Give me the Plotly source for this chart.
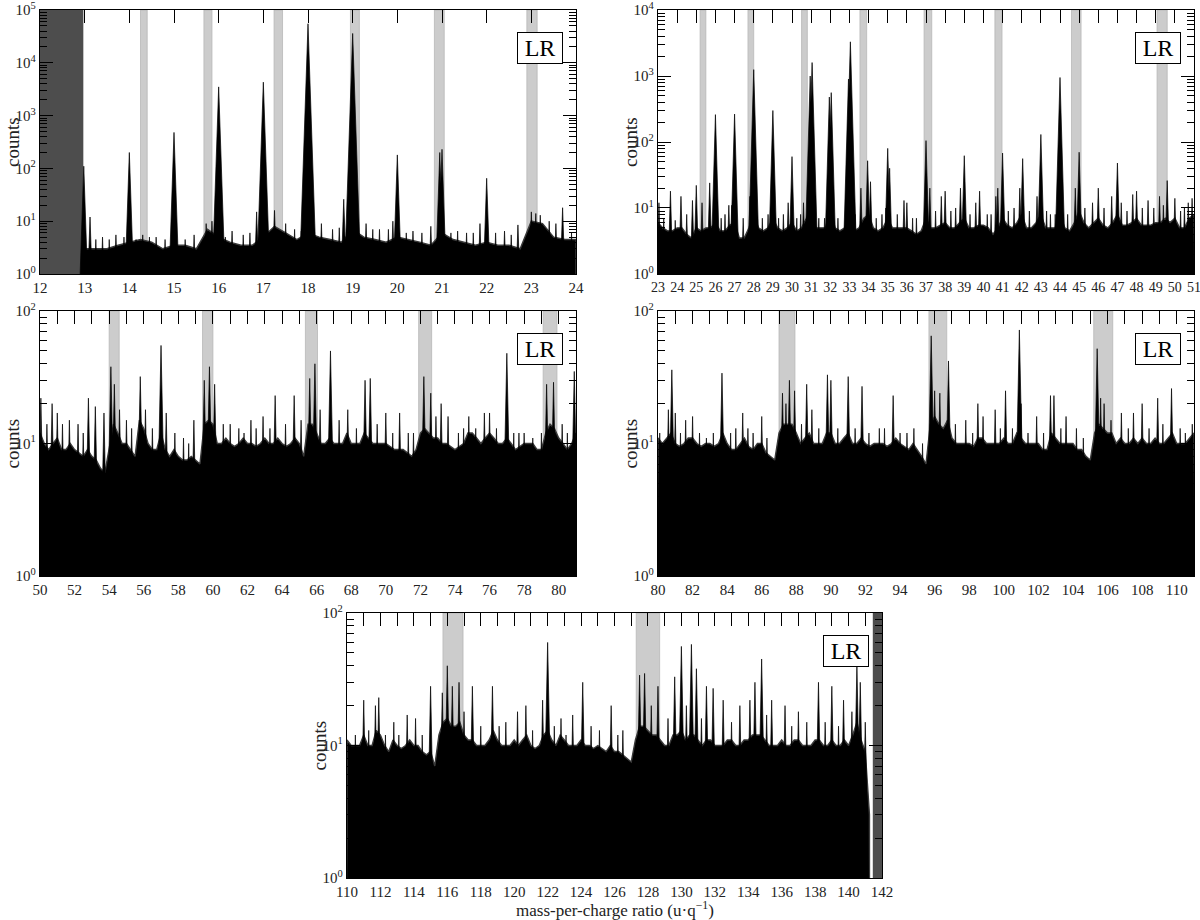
import numpy as np
import plotly.graph_objects as go

FONT = "Liberation Serif"
W, H = 1200, 920

# ---------------- Panel 1 : 12-24 ----------------
p1_floor_start, p1_floor_step = 13.0, 0.25
p1_floor = [3, 3, 3, 3.5, 4, 4.5, 4, 3, 3.5, 3.5, 3, 7, 5, 4, 3.5, 3.5, 5, 8, 6, 4.5,
            6, 5, 4.5, 4, 7, 5, 4.5, 4, 5, 4.5, 4, 3.5, 6, 4.5, 4, 3.5, 4, 3.5, 3.5, 3,
            10, 9, 5, 4.5, 4.5]
p1_mz = [12.98, 13.12, 13.25, 13.4, 13.55, 13.7, 13.88, 14.0, 14.15, 14.3, 14.45, 14.6, 14.8,
         15.0, 15.25, 15.45, 15.72, 15.85, 16.0, 16.15, 16.3, 16.55, 16.7, 16.85, 17.0, 17.25,
         17.5, 17.7, 17.85, 18.0, 18.3, 18.55, 18.7, 18.8, 19.0, 19.3, 19.45, 19.6, 19.8, 19.9,
         20.0, 20.2, 20.35, 20.55, 20.75, 20.95, 21.0, 21.2, 21.35, 21.55, 21.7, 21.85, 22.0,
         22.2, 22.4, 22.55, 22.7, 23.0, 23.1, 23.2, 23.4, 23.55, 23.7, 23.9]
p1_counts = [110, 12, 4.5, 5, 4.5, 5.5, 5, 200, 4.5, 5.5, 5, 5, 4.5,
             480, 4.5, 5.5, 9, 10, 3500, 5, 6.5, 5.5, 6, 15, 4300, 16,
             9, 7, 6.5, 55000, 9, 7, 7.5, 26, 36000, 9, 7, 7, 7, 10,
             180, 6, 6.5, 6, 8, 200, 230, 6, 6.5, 6, 6, 9, 65,
             6, 6.5, 5.5, 8.5, 15, 14, 13, 10, 9, 18, 6]
p1_bands = [(14.25, 14.4), (15.67, 15.85), (17.24, 17.43), (18.95, 19.15), (20.83, 21.05), (22.9, 23.13)]
p1_dark = [(12.0, 12.97)]

# ---------------- Panel 2 : 23-51 ----------------
p2_floor_start, p2_floor_step = 23.0, 0.25
p2_floor = [6, 5, 4.5, 4.5, 5, 5, 4, 3.5, 5, 4.5, 5, 5, 6, 4.5, 4.5, 5.5, 6, 3.5, 3.5, 5,
            8, 5, 4.5, 5, 7, 5, 4.5, 5, 6, 4.5, 5, 7, 10, 5, 5, 5, 10, 5, 4.5, 5,
            8, 4.5, 5, 7, 8, 5, 4.5, 5, 7, 5, 5, 5, 5, 4.5, 4, 4.5, 7, 5, 5, 5.5,
            6, 5, 5, 6, 7, 5, 5, 5.5, 5.5, 5, 4, 5, 7, 5.5, 5, 6, 8, 5, 5, 6,
            8, 5, 5, 5, 8, 5, 4.5, 6, 9, 6, 5, 6, 7, 5.5, 5, 6, 8, 5.5, 5.5, 6,
            7, 5.5, 5.5, 5.5, 6, 6, 7, 6, 7, 5, 5, 7, 8]
p2_mz = [23.05, 23.3, 23.65, 23.9, 24.2, 24.5, 24.8, 25.0, 25.3, 25.7, 26.0, 26.3, 26.5, 26.7,
         26.85, 27.0, 27.45, 27.8, 28.0, 28.45, 28.75, 29.0, 29.3, 29.55, 29.8, 30.0, 30.25,
         30.45, 30.6, 30.95, 31.05, 31.4, 31.7, 31.95, 32.05, 32.4, 32.8, 32.95, 33.05, 33.3,
         33.6, 33.95, 34.1, 34.4, 34.7, 34.9, 35.0, 35.1, 35.5, 35.85, 36.0, 36.3, 36.5,
         37.0, 37.2, 37.5, 37.8, 38.0, 38.3, 38.55, 38.8, 39.0, 39.3, 39.6, 39.8, 40.2, 40.4,
         40.65, 40.75, 41.0, 41.3, 41.6, 41.9, 42.05, 42.4, 42.8, 43.0, 43.3, 43.5, 43.75,
         44.0, 44.4, 44.8, 45.0, 45.3, 45.7, 46.0, 46.3, 46.7, 47.0, 47.2, 47.5, 47.8, 48.0,
         48.3, 48.6, 48.9, 49.2, 49.4, 49.6, 50.0, 50.3, 50.5, 50.7, 50.9]
p2_counts = [12, 7, 18, 6.5, 15, 8, 13, 22, 12, 24, 260, 7, 8, 11,
             11, 265, 7, 15, 1250, 7, 8, 300, 7, 8, 12, 60, 7,
             8, 12, 1000, 1600, 7, 7, 480, 560, 7, 8, 900, 3300, 8,
             20, 52, 25, 7, 8, 10, 80, 40, 8, 13, 12, 7, 7,
             105, 20, 9, 15, 18, 9, 10, 20, 62, 8, 12, 18, 8, 8,
             15, 20, 68, 9, 10, 20, 56, 9, 15, 130, 9, 8, 8,
             950, 8, 20, 70, 10, 12, 20, 10, 15, 48, 12, 9, 16, 18,
             10, 13, 10, 15, 11, 26, 14, 9, 10, 12, 14]
p2_bands = [(25.2, 25.5), (27.7, 28.0), (30.5, 30.8), (33.55, 33.9), (36.9, 37.3),
            (40.6, 40.97), (44.6, 45.1), (49.07, 49.6)]
p2_dark = []

# ---------------- Panel 3 : 50-81 ----------------
p3_floor_start, p3_floor_step = 50.0, 0.25
p3_floor = [12, 10, 9, 10, 11, 9, 9, 10, 9, 8.5, 8, 9, 8, 7.5, 6.5, 6, 9, 14, 12, 10,
            10, 9, 8, 15, 13, 10, 9, 9, 12, 9, 8, 9, 8, 7.5, 7.5, 8, 7.5, 7, 14, 15,
            14, 10, 10, 11, 10, 9.5, 10, 11, 10, 10, 9.5, 10, 11, 10, 10, 11, 10, 9.5, 10, 11,
            10, 8, 14, 14, 12, 10, 10, 11, 10, 10, 10, 12, 10, 10, 10, 12, 11, 10, 10, 10,
            10, 9.5, 9, 9, 9, 8.5, 8, 9, 12, 13, 12, 11, 11, 10, 10, 9.5, 9, 9.5, 10, 12,
            12, 11, 10, 11, 12, 11, 10, 10, 11, 10, 9, 9.5, 10, 10, 10, 9, 9, 12, 14, 13,
            11, 10, 9, 10, 12]
p3_mz = [50.05, 50.4, 50.7, 51.0, 51.3, 51.7, 52.2, 52.5, 52.8, 53.2, 53.7, 54.1, 54.3, 54.6,
         55.0, 55.3, 55.8, 56.1, 56.5, 57.0, 57.3, 57.8, 58.3, 58.6, 58.9, 59.5, 59.8, 60.1,
         60.6, 61.0, 61.5, 61.8, 62.2, 62.5, 62.9, 63.3, 63.6, 64.2, 64.7, 65.1, 65.6, 65.9,
         66.2, 66.8, 67.3, 67.8, 68.3, 68.8, 69.1, 69.5, 70.0, 70.4, 70.8, 71.3, 71.6, 72.2,
         72.6, 72.9, 73.2, 73.6, 74.2, 74.5, 74.8, 75.2, 75.7, 76.0, 76.4, 77.0, 77.4, 77.7,
         78.0, 78.5, 79.0, 79.3, 79.7, 80.2, 80.5, 80.9]
p3_counts = [22, 14, 20, 17, 14, 15, 14, 12, 22, 19, 17, 38, 28, 18,
             15, 13, 32, 18, 13, 55, 17, 12, 11, 10, 15, 30, 38, 28,
             14, 14, 13, 12, 15, 13, 16, 13, 23, 14, 23, 15, 31, 40,
             18, 50, 15, 18, 13, 30, 31, 14, 17, 12, 17, 12, 12, 32,
             24, 16, 20, 16, 12, 13, 16, 13, 17, 17, 13, 48, 12, 12,
             12, 11, 12, 28, 29, 14, 12, 35]
p3_bands = [(54.0, 54.58), (59.4, 60.0), (65.35, 66.05), (71.9, 72.65), (79.1, 79.9)]
p3_dark = []

# ---------------- Panel 4 : 80-111 ----------------
p4_floor_start, p4_floor_step = 80.0, 0.25
p4_floor = [11, 10, 11, 12, 10, 9.5, 10, 11, 11, 10, 9.5, 10, 10, 9.5, 10, 12, 10, 9, 9, 10,
            11, 9.5, 9, 10, 10, 8.5, 8, 7.5, 12, 14, 14, 14, 12, 10, 11, 12, 10, 10, 10, 12,
            12, 10, 10, 11, 12, 10, 10, 11, 10, 9.5, 10, 10, 10, 9.5, 10, 11, 10, 9.5, 9, 10,
            9, 8, 7, 14, 16, 14, 13, 15, 11, 10, 10, 10, 10, 9.5, 11, 11, 10, 10, 10, 10,
            11, 10, 10, 12, 11, 10, 10, 10, 10, 9, 9, 12, 11, 10, 10, 10, 10, 9, 9, 8,
            7.5, 12, 14, 13, 12, 12, 10, 11, 10, 10, 11, 10, 11, 10, 10, 11, 10, 10, 11, 12,
            10, 10, 10, 11, 12]
p4_mz = [80.1, 80.6, 80.8, 81.0, 81.3, 81.6, 82.0, 82.4, 82.8, 83.2, 83.7, 84.2, 84.5, 84.9,
         85.2, 85.5, 86.0, 86.3, 87.2, 87.4, 87.6, 87.9, 88.3, 88.6, 88.9, 89.3, 89.8, 90.0,
         90.4, 91.0, 91.4, 91.8, 92.2, 92.8, 93.1, 93.6, 94.0, 94.4, 94.8, 95.3, 95.8, 96.0,
         96.3, 96.8, 97.2, 97.8, 98.2, 98.5, 98.8, 99.5, 99.8, 100.1, 100.5, 100.9, 101.0,
         101.4, 101.9, 102.3, 102.7, 102.9, 103.3, 103.6, 104.2, 104.6, 105.4, 105.6, 105.8,
         106.2, 106.8, 107.2, 107.5, 108.0, 108.4, 108.9, 109.2, 109.7, 110.2, 110.5, 110.9]
p4_counts = [12, 18, 36, 17, 12, 15, 16, 12, 11, 12, 34, 12, 13, 17,
             13, 12, 16, 11, 24, 20, 30, 25, 14, 28, 18, 13, 33, 30,
             13, 32, 13, 27, 12, 13, 13, 23, 12, 12, 13, 10, 65, 25,
             24, 42, 14, 15, 12, 20, 16, 18, 13, 25, 13, 72, 20,
             12, 16, 12, 23, 23, 13, 16, 13, 11, 52, 22, 20,
             15, 17, 13, 17, 20, 13, 22, 14, 26, 13, 12, 14]
p4_bands = [(87.0, 87.92), (95.67, 96.7), (105.2, 106.3)]
p4_dark = []

# ---------------- Panel 5 : 110-142 ----------------
p5_floor_start, p5_floor_step = 110.0, 0.25
p5_floor = [11, 10, 10, 10, 12, 10, 10, 13, 12, 10, 9, 11, 10, 9.5, 10, 11, 10, 10, 9, 8.5,
            9, 7, 12, 15, 16, 14, 14, 15, 12, 11, 11, 10, 10, 10, 11, 13, 11, 10, 10, 10,
            11, 10, 11, 12, 10, 9.5, 10, 12, 13, 11, 10, 12, 11, 10, 10, 10, 11, 10, 10, 9.5,
            10, 9.5, 9, 10, 9, 9, 8.5, 8, 7.5, 11, 14, 14, 13, 12, 12, 11, 10, 10, 12, 12,
            13, 11, 12, 12, 11, 10, 11, 11, 10, 10, 10, 11, 11, 10, 10, 11, 11, 12, 12, 12,
            11, 10, 10, 10, 11, 10, 10, 11, 11, 10, 10, 10, 11, 11, 10, 10, 11, 10, 10, 11,
            10, 12, 15, 11, 9, 3]
p5_mz = [110.2, 110.5, 111.0, 111.3, 111.7, 111.9, 112.3, 112.8, 113.1, 113.6, 114.1, 114.5,
         115.0, 115.7, 116.0, 116.3, 116.7, 117.0, 117.5, 118.0, 118.7, 119.1, 119.5, 120.2,
         120.7, 121.1, 121.7, 122.0, 122.4, 122.8, 123.1, 123.5, 124.1, 124.6, 125.1, 125.8,
         126.2, 126.5, 127.5, 127.8, 128.2, 128.6, 129.2, 129.6, 130.0, 130.3, 130.6, 130.9,
         131.2, 131.5, 131.9, 132.5, 133.0, 133.5, 134.1, 134.4, 134.8, 135.1, 135.4, 136.2,
         136.6, 137.0, 137.5, 138.2, 138.6, 139.0, 139.4, 139.7, 140.2, 140.5, 140.7, 141.0]
p5_counts = [10, 12, 22, 13, 20, 23, 12, 15, 12, 17, 16, 12,
             28, 25, 40, 28, 30, 18, 28, 14, 28, 14, 15, 18,
             20, 13, 22, 60, 14, 16, 12, 17, 30, 14, 13, 20,
             12, 13, 34, 35, 20, 28, 16, 33, 56, 20, 58, 38,
             16, 28, 27, 22, 15, 20, 22, 30, 45, 17, 22, 20,
             14, 18, 15, 30, 15, 28, 14, 22, 18, 40, 30, 15]
p5_bands = [(115.74, 116.94), (127.3, 128.7)]
p5_dark = [(141.45, 142.0)]

panels = [
    dict(fs=p1_floor_start, fst=p1_floor_step, floor=p1_floor, mz=p1_mz, counts=p1_counts,
         bands=p1_bands, dark=p1_dark, xr=[12, 24], dec=5, lab_every=1, c=0.04,
         box=(40, 576, 10, 274)),
    dict(fs=p2_floor_start, fst=p2_floor_step, floor=p2_floor, mz=p2_mz, counts=p2_counts,
         bands=p2_bands, dark=p2_dark, xr=[23, 51], dec=4, lab_every=1, c=0.1,
         box=(658, 1194, 10, 274)),
    dict(fs=p3_floor_start, fst=p3_floor_step, floor=p3_floor, mz=p3_mz, counts=p3_counts,
         bands=p3_bands, dark=p3_dark, xr=[50, 81], dec=2, lab_every=2, c=0.16,
         box=(40, 576, 311, 576)),
    dict(fs=p4_floor_start, fst=p4_floor_step, floor=p4_floor, mz=p4_mz, counts=p4_counts,
         bands=p4_bands, dark=p4_dark, xr=[80, 111], dec=2, lab_every=2, c=0.16,
         box=(658, 1194, 311, 576)),
    dict(fs=p5_floor_start, fst=p5_floor_step, floor=p5_floor, mz=p5_mz, counts=p5_counts,
         bands=p5_bands, dark=p5_dark, xr=[110, 142], dec=2, lab_every=2, c=0.16,
         box=(347, 882, 613, 878)),
]


def fx_(px):
    return px / W


def fy_(py):
    return 1 - py / H


fig = go.Figure()
layout = dict(width=W, height=H, margin=dict(l=0, r=0, t=0, b=0, pad=0), autosize=False,
              paper_bgcolor="white", plot_bgcolor="white", showlegend=False,
              font=dict(family=FONT, color="#222"))
shapes, annotations = [], []

for i, p in enumerate(panels, start=1):
    xa = "x" if i == 1 else f"x{i}"
    ya = "y" if i == 1 else f"y{i}"
    l, r, t, b = p["box"]

    # noise floor as a filled polygon
    fx = p["fs"] + p["fst"] * np.arange(len(p["floor"]))
    poly_x = [fx[0]] + list(fx) + [fx[-1]]
    poly_y = [0.5] + list(p["floor"]) + [0.5]
    fig.add_trace(go.Scatter(x=poly_x, y=poly_y, fill="toself", fillcolor="black",
                             mode="lines", line=dict(color="#3a3a3a", width=1.4),
                             xaxis=xa, yaxis=ya, hoverinfo="skip"))
    # peaks as narrow spikes
    sx, sy = [], []
    for m, h in zip(p["mz"], p["counts"]):
        w = p["c"] * np.log10(h)
        sx += [m - w, m, m + w, None]
        sy += [1.0, h, 1.0, None]
    fig.add_trace(go.Scatter(x=sx, y=sy, fill="toself", fillcolor="black", mode="lines",
                             line=dict(color="black", width=0.7),
                             xaxis=xa, yaxis=ya, hoverinfo="skip"))

    # x axis
    tv = list(range(int(p["xr"][0]), int(p["xr"][1]) + 1))
    tt = [str(v) if (v - tv[0]) % p["lab_every"] == 0 else "" for v in tv]
    layout["xaxis" if i == 1 else f"xaxis{i}"] = dict(
        domain=[fx_(l), fx_(r)], range=p["xr"], anchor=ya, tickvals=tv, ticktext=tt,
        ticks="inside", ticklen=13, tickwidth=1.3, tickcolor="black", mirror="allticks",
        showline=True, linecolor="black", linewidth=1.3, showgrid=False, zeroline=False,
        automargin=False, ticklabeloverflow="allow",
        tickfont=dict(family=FONT, size=14 if i == 2 else 15, color="#222"))
    # y axis (log)
    yv = [10 ** k for k in range(p["dec"] + 1)]
    yt = [f"10<sup>{k}</sup>" for k in range(p["dec"] + 1)]
    minor_v = [m * 10 ** k for k in range(p["dec"]) for m in range(2, 10)]
    layout["yaxis" if i == 1 else f"yaxis{i}"] = dict(
        domain=[fy_(b), fy_(t)], type="log", range=[-0.0005, p["dec"] + 0.0005], anchor=xa,
        tickvals=yv, ticktext=yt, ticks="inside", ticklen=13, tickwidth=1.3,
        tickcolor="black", mirror="allticks", showline=True, linecolor="black",
        linewidth=1.3, showgrid=False, zeroline=False, automargin=False,
        ticklabeloverflow="allow",
        minor=dict(tickvals=minor_v, ticks="inside", ticklen=7, tickwidth=1,
                   tickcolor="black", showgrid=False),
        tickfont=dict(family=FONT, size=15, color="#222"))

    for (a, c2) in p["bands"]:
        shapes.append(dict(type="rect", xref=xa, yref=f"{ya} domain", x0=a, x1=c2, y0=0, y1=1,
                           fillcolor="#cccccc", line=dict(color="#b8b8b8", width=0.8),
                           layer="below"))
    for (a, c2) in p["dark"]:
        shapes.append(dict(type="rect", xref=xa, yref=f"{ya} domain", x0=a, x1=c2, y0=0, y1=1,
                           fillcolor="#4d4d4d", line=dict(width=0), layer="below"))

    annotations.append(dict(text="LR", xref=f"{xa} domain", yref=f"{ya} domain",
                            x=0.932, y=0.855, xanchor="center", yanchor="middle",
                            showarrow=False, font=dict(family=FONT, size=24, color="black"),
                            bgcolor="white", bordercolor="black", borderwidth=1,
                            borderpad=3, width=38, height=24))
    # y title
    annotations.append(dict(text="counts", xref="paper", yref="paper",
                            x=fx_(l - 28), y=fy_((t + b) / 2), xanchor="center",
                            yanchor="middle", textangle=-90, showarrow=False,
                            font=dict(family=FONT, size=19, color="#222")))

annotations.append(dict(text="mass-per-charge ratio (u·q<sup>−1</sup>)", xref="paper",
                        yref="paper", x=fx_(614.5), y=fy_(908.5), xanchor="center",
                        yanchor="middle", showarrow=False,
                        font=dict(family=FONT, size=17, color="#222")))

layout["shapes"] = shapes
layout["annotations"] = annotations
fig.update_layout(**layout)
fig.write_html("out.html", config={"displayModeBar": False},
               post_script="document.body.style.margin='0px';document.body.style.overflow='hidden';")
